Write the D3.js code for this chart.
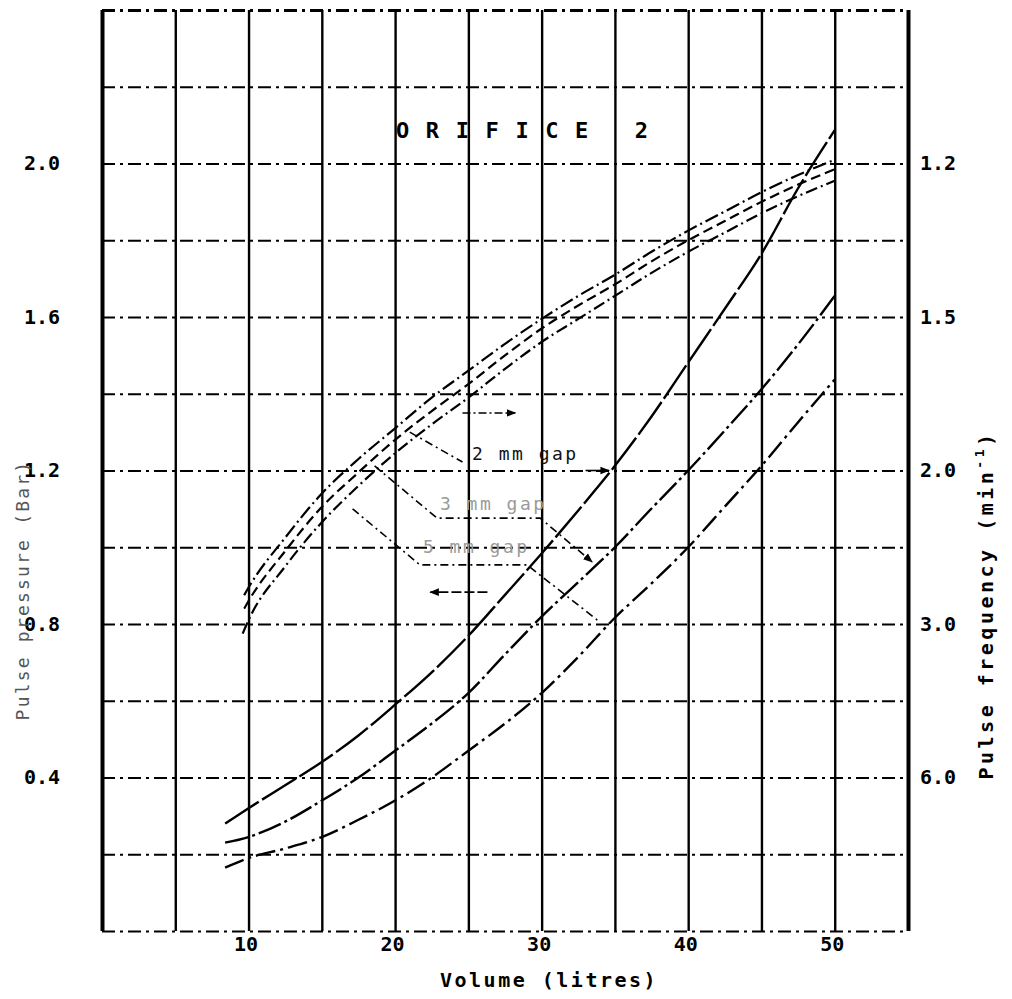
<!DOCTYPE html>
<html>
<head>
<meta charset="utf-8">
<script src="https://cdn.jsdelivr.net/npm/d3@7"></script>
<style>
  body { margin: 0; background: #fff; }
  svg { display: block; }
</style>
</head>
<body>
<div id="chart"></div>
<script>
// Tick labels
const volumeTicks = [10, 20, 30, 40, 50];
const pressureTicks = [0.4, 0.8, 1.2, 1.6, 2.0];
const frequencyTicks = [1.2, 1.5, 2.0, 3.0, 6.0];
const gapLabels = ['2 mm gap', '3 mm gap', '5 mm gap'];

// Pulse pressure (bar) against volume (litres)
const pressureUpper = [[9.7, 0.875], [10, 0.895], [12.5, 1.025], [15, 1.14], [17.5, 1.23], [20, 1.31],
  [22.5, 1.39], [25, 1.46], [27.5, 1.53], [30, 1.595], [32.5, 1.655], [35, 1.71], [37.5, 1.77],
  [40, 1.825], [42.5, 1.875], [45, 1.925], [47.5, 1.97], [50, 2.01]];
const pressureMiddle = [[9.7, 0.84], [10, 0.86], [12.5, 0.99], [15, 1.105], [17.5, 1.195], [20, 1.28],
  [22.5, 1.355], [25, 1.425], [27.5, 1.5], [30, 1.57], [32.5, 1.63], [35, 1.685], [37.5, 1.745],
  [40, 1.8], [42.5, 1.85], [45, 1.9], [47.5, 1.945], [50, 1.985]];
const pressureLower = [[9.6, 0.775], [10, 0.81], [12.5, 0.95], [15, 1.065], [17.5, 1.16], [20, 1.245],
  [22.5, 1.32], [25, 1.39], [27.5, 1.465], [30, 1.535], [32.5, 1.595], [35, 1.655], [37.5, 1.715],
  [40, 1.77], [42.5, 1.82], [45, 1.87], [47.5, 1.915], [50, 1.955]];

// Pulse frequency (min^-1) against volume (litres)
const frequency2mm = [[8.4, 8.57], [10, 7.5], [12.5, 6.32], [15, 5.45], [17.5, 4.71], [20, 4.07],
  [22.5, 3.56], [25, 3.12], [27.5, 2.74], [30, 2.44], [32.5, 2.19], [35, 1.98], [37.5, 1.79],
  [40, 1.62], [42.5, 1.48], [45, 1.36], [47.5, 1.24], [50, 1.15]];
const frequency3mm = [[8.4, 10.43], [10, 9.8], [12.5, 8.42], [15, 7.06], [17.5, 6.0], [20, 5.11],
  [22.5, 4.44], [25, 3.87], [27.5, 3.33], [30, 2.93], [32.5, 2.64], [35, 2.4], [37.5, 2.18],
  [40, 2.0], [42.5, 1.84], [45, 1.7], [47.5, 1.57], [50, 1.45]];
const frequency5mm = [[8.4, 14.55], [10, 12.63], [12.5, 11.16], [15, 9.8], [17.5, 8.28], [20, 7.06],
  [22.5, 6.0], [25, 5.11], [27.5, 4.44], [30, 3.87], [32.5, 3.36], [35, 2.94], [37.5, 2.65],
  [40, 2.4], [42.5, 2.17], [45, 1.98], [47.5, 1.81], [50, 1.67]];

class PulseChart {
  constructor(_config) {
    this.config = {
      parentElement: _config.parentElement,
      containerWidth: 1012,
      containerHeight: 999,
      margin: { top: 10, left: 102, right: 104, bottom: 68 },
      font: "'DejaVu Sans Mono', monospace",
    };
    this.initVis();
  }

  initVis() {
    let vis = this;

    vis.width = vis.config.containerWidth - vis.config.margin.left - vis.config.margin.right;
    vis.height = vis.config.containerHeight - vis.config.margin.top - vis.config.margin.bottom;

    vis.svg = d3
      .select(vis.config.parentElement)
      .append('svg')
      .attr('width', vis.config.containerWidth)
      .attr('height', vis.config.containerHeight)
      .style('background', '#fff');

    vis.svg.append('defs')
      .append('marker')
      .attr('id', 'arrow')
      .attr('viewBox', '0 0 10 10')
      .attr('refX', 9)
      .attr('refY', 5)
      .attr('markerWidth', 6)
      .attr('markerHeight', 6)
      .attr('orient', 'auto-start-reverse')
      .append('path')
      .attr('d', 'M0,1L10,5L0,9z')
      .attr('fill', '#000');

    vis.chart = vis.svg
      .append('g')
      .attr('transform', `translate(${vis.config.margin.left},${vis.config.margin.top})`);

    // Scales: right axis is frequency = 2.4 / pressure
    vis.xScale = d3.scaleLinear().domain([0, 55]).range([0, vis.width]);
    vis.yScale = d3.scaleLinear().domain([0, 2.4]).range([vis.height, 0]);
    vis.freqY = (f) => vis.yScale(2.4 / f);

    vis.renderVis();
  }

  renderVis() {
    let vis = this;
    const font = vis.config.font;

    // Vertical grid (solid)
    const xGrid = vis.chart.append('g')
      .attr('transform', `translate(0,${vis.height})`)
      .call(d3.axisBottom(vis.xScale).tickValues(d3.range(0, 56, 5)).tickSize(vis.height).tickFormat(''))
      .attr('transform', `translate(0,0)`);
    xGrid.select('.domain').remove();
    xGrid.selectAll('line')
      .attr('y1', 0)
      .attr('y2', vis.height)
      .attr('stroke', '#000')
      .attr('stroke-width', (d) => (d === 0 || d === 55 ? 4 : 2.4));

    // Horizontal grid (dash-dot)
    const yGrid = vis.chart.append('g')
      .call(d3.axisLeft(vis.yScale).tickValues(d3.range(0, 13).map((i) => i * 0.2)).tickSize(-vis.width).tickFormat(''));
    yGrid.select('.domain').remove();
    yGrid.selectAll('line')
      .attr('stroke', '#000')
      .attr('stroke-width', (d, i) => (i === 12 ? 3 : 2.2))
      .attr('stroke-dasharray', '13,5,3,5');

    // Tick labels
    const styleLabels = (g, size) => {
      g.select('.domain').remove();
      g.selectAll('text')
        .style('font-family', font)
        .style('font-size', size + 'px')
        .style('font-weight', 'bold')
        .attr('fill', '#000');
    };

    vis.chart.append('g')
      .attr('transform', `translate(-3,${vis.height})`)
      .call(d3.axisBottom(vis.xScale).tickValues(volumeTicks).tickSize(0).tickPadding(6))
      .call(styleLabels, 20);

    vis.chart.append('g')
      .call(d3.axisLeft(vis.yScale).tickValues(pressureTicks).tickSize(0).tickPadding(42).tickFormat(d3.format('.1f')))
      .call(styleLabels, 20);

    vis.chart.append('g')
      .attr('transform', `translate(${vis.width},0)`)
      .call(d3.axisRight(vis.yScale)
        .tickValues(frequencyTicks.map((f) => 2.4 / f))
        .tickSize(0)
        .tickPadding(12)
        .tickFormat((p) => (2.4 / p).toFixed(1)))
      .call(styleLabels, 20);

    // Pressure curves
    const pressureLine = d3.line()
      .x((d) => vis.xScale(d[0]))
      .y((d) => vis.yScale(d[1]))
      .curve(d3.curveMonotoneX);

    const pressureSeries = [
      { data: pressureUpper, dash: '14,4,2,4' },
      { data: pressureMiddle, dash: '10,5' },
      { data: pressureLower, dash: '12,4,2,4' },
    ];
    vis.chart.selectAll('.pressure')
      .data(pressureSeries)
      .join('path')
      .attr('class', 'pressure')
      .attr('d', (d) => pressureLine(d.data))
      .attr('fill', 'none')
      .attr('stroke', '#000')
      .attr('stroke-width', 2.2)
      .attr('stroke-dasharray', (d) => d.dash);

    // Frequency lines
    const frequencyLine = d3.line()
      .x((d) => vis.xScale(d[0]))
      .y((d) => vis.freqY(d[1]))
      .curve(d3.curveMonotoneX);

    const frequencySeries = [
      { data: frequency2mm, dash: '40,4' },
      { data: frequency3mm, dash: '24,4,3,4' },
      { data: frequency5mm, dash: '20,5,3,5' },
    ];
    vis.chart.selectAll('.frequency')
      .data(frequencySeries)
      .join('path')
      .attr('class', 'frequency')
      .attr('d', (d) => frequencyLine(d.data))
      .attr('fill', 'none')
      .attr('stroke', '#000')
      .attr('stroke-width', 2.4)
      .attr('stroke-dasharray', (d) => d.dash);

    // Gap labels with leader lines (volume, pressure)
    const leaders = [
      { pts: [[21.0, 1.30], [24.6, 1.222]], dash: '8,4,2,4' },
      { pts: [[33.0, 1.2], [34.6, 1.2]], dash: null, arrow: true },
      { pts: [[18.6, 1.212], [22.86, 1.076], [29.9, 1.076], [33.44, 0.962]], dash: '8,4,2,4', arrow: true },
      { pts: [[17.1, 1.1], [21.7, 0.954], [29.0, 0.954], [33.98, 0.805]], dash: '8,4,2,4' },
      { pts: [[24.6, 1.35], [28.2, 1.35]], dash: '8,3,2,3', arrow: true },
      { pts: [[26.3, 0.883], [22.4, 0.883]], dash: '10,3', arrow: true },
    ];
    const leaderLine = d3.line().x((d) => vis.xScale(d[0])).y((d) => vis.yScale(d[1]));
    vis.chart.selectAll('.leader')
      .data(leaders)
      .join('path')
      .attr('class', 'leader')
      .attr('d', (d) => leaderLine(d.pts))
      .attr('fill', 'none')
      .attr('stroke', '#000')
      .attr('stroke-width', 1.6)
      .attr('stroke-dasharray', (d) => d.dash)
      .attr('marker-end', (d) => (d.arrow ? 'url(#arrow)' : null));

    const labelSpots = [[25.25, 1.227], [23.06, 1.097], [21.9, 0.985]];
    vis.chart.selectAll('.gap-label')
      .data(gapLabels)
      .join('text')
      .attr('class', 'gap-label')
      .attr('x', (d, i) => vis.xScale(labelSpots[i][0]))
      .attr('y', (d, i) => vis.yScale(labelSpots[i][1]))
      .attr('fill', (d, i) => (i === 0 ? '#111' : '#9a9a9a'))
      .style('font-family', font)
      .style('font-size', '18px')
      .style('letter-spacing', '2.5px')
      .text((d) => d);

    // Title
    vis.chart.append('text')
      .attr('x', 294)
      .attr('y', 128)
      .style('font-family', font)
      .style('font-size', '22px')
      .style('font-weight', 'bold')
      .style('letter-spacing', '16.6px')
      .text('ORIFICE 2');

    // Axis titles
    vis.svg.append('text')
      .attr('x', 440)
      .attr('y', 987)
      .style('font-family', font)
      .style('font-size', '20px')
      .style('font-weight', 'bold')
      .style('letter-spacing', '2.5px')
      .text('Volume (litres)');

    vis.svg.append('text')
      .attr('transform', 'translate(29,590) rotate(-90)')
      .attr('text-anchor', 'middle')
      .attr('fill', '#555')
      .style('font-family', font)
      .style('font-size', '18px')
      .style('letter-spacing', '2.2px')
      .text('Pulse pressure (Bar)');

    const rightTitle = vis.svg.append('text')
      .attr('transform', 'translate(993,605) rotate(-90)')
      .attr('text-anchor', 'middle')
      .style('font-family', font)
      .style('font-size', '20px')
      .style('font-weight', 'bold')
      .style('letter-spacing', '3.5px');
    rightTitle.append('tspan').text('Pulse frequency (min');
    rightTitle.append('tspan').attr('dy', -9).style('font-size', '13px').text('-1');
    rightTitle.append('tspan').attr('dy', 9).text(')');
  }
}

new PulseChart({ parentElement: '#chart' });
</script>
</body>
</html>
